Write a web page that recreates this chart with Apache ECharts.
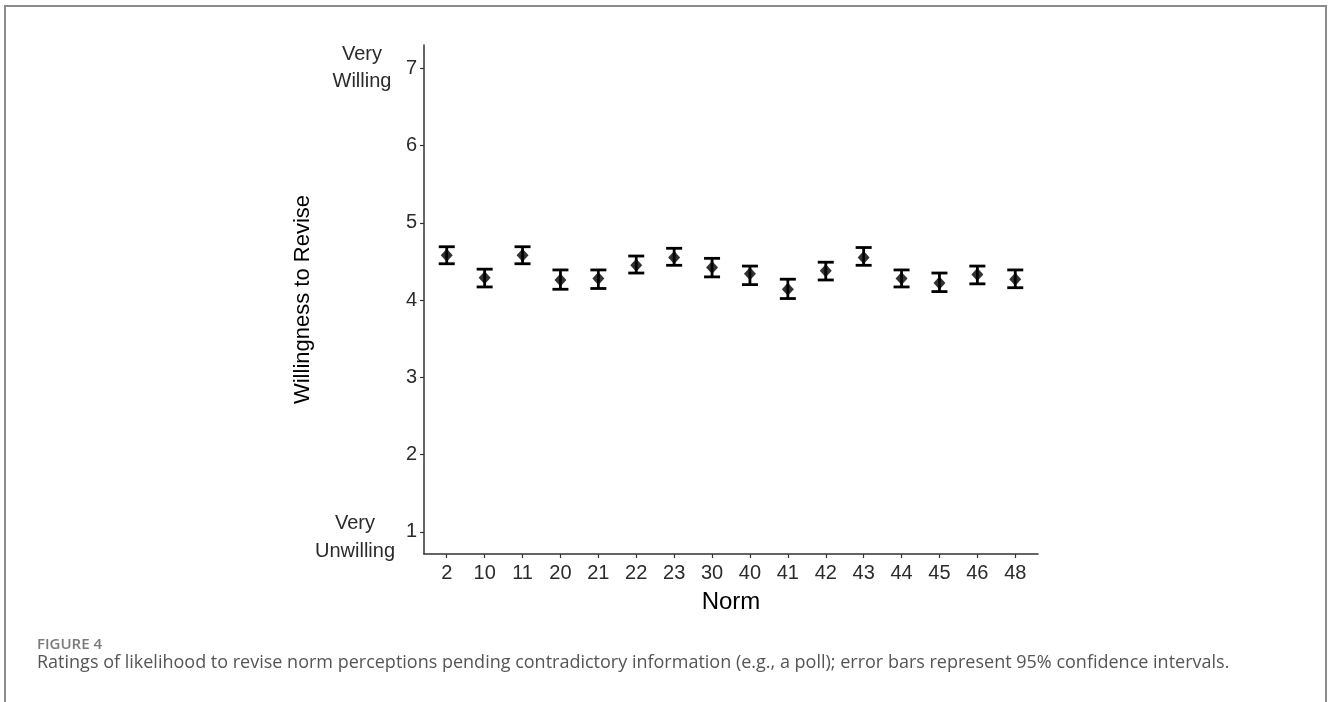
<!DOCTYPE html>
<html>
<head>
<meta charset="utf-8">
<title>Figure 4</title>
<script src="https://cdn.jsdelivr.net/npm/echarts@6/dist/echarts.min.js"></script>
<style>
  html, body { margin: 0; padding: 0; background: #fff; }
  #chart { position: absolute; left: 0; top: 0; width: 1328px; height: 702px; }
  #frame {
    position: absolute; left: 4px; top: 5px; width: 1319px; height: 720px;
    border: 2px solid #8c8c8c; border-bottom: none; pointer-events: none;
  }
</style>
</head>
<body>
<div id="chart"></div>
<div id="frame"></div>
<script>
// norms on the x axis
const norms = ["2", "10", "11", "20", "21", "22", "23", "30", "40", "41", "42", "43", "44", "45", "46", "48"];
// mean rating and 95% CI per norm
const means = [4.58, 4.29, 4.58, 4.26, 4.28, 4.45, 4.55, 4.42, 4.34, 4.14, 4.38, 4.55, 4.28, 4.22, 4.33, 4.27];
const lower = [4.47, 4.17, 4.47, 4.14, 4.15, 4.35, 4.45, 4.30, 4.20, 4.02, 4.26, 4.45, 4.17, 4.11, 4.21, 4.16];
const upper = [4.69, 4.40, 4.69, 4.39, 4.39, 4.57, 4.67, 4.54, 4.44, 4.27, 4.49, 4.68, 4.39, 4.35, 4.44, 4.39];
const yTicks = [1, 2, 3, 4, 5, 6, 7];

const xPos = norms.map((n, i) => i + 1);
const fontAxis = "'Liberation Sans', Arial, sans-serif";
const fontCap = "'Open Sans', 'Noto Sans', sans-serif";

const chart = echarts.init(document.getElementById("chart"));

const option = {
  animation: false,
  backgroundColor: "#fff",
  title: [
    {
      text: "FIGURE 4",
      left: 37, top: 637, padding: 0,
      textStyle: { fontFamily: fontCap, fontSize: 15, fontWeight: 600, color: "#7a7a7a", lineHeight: 15 }
    },
    {
      text: "Ratings of likelihood to revise norm perceptions pending contradictory information (e.g., a poll); error bars represent 95% confidence intervals.",
      left: 37, top: 654, padding: 0,
      textStyle: { fontFamily: fontCap, fontSize: 18, fontWeight: 400, color: "#555", lineHeight: 18 }
    }
  ],
  grid: { left: 424, right: 290, top: 45, bottom: 148 },
  xAxis: {
    type: "value",
    min: 0.4,
    max: 16.6,
    name: "Norm",
    nameLocation: "middle",
    nameGap: 36,
    nameTextStyle: { fontFamily: fontAxis, fontSize: 24, color: "#000" },
    axisLine: { lineStyle: { color: "#333", width: 1.5 } },
    axisTick: { customValues: xPos, length: 4, lineStyle: { color: "#333", width: 1.2 } },
    axisLabel: {
      customValues: xPos,
      formatter: v => norms[Math.round(v) - 1],
      fontFamily: fontAxis, fontSize: 20, color: "#2b2b2b", margin: 9
    },
    splitLine: { show: false }
  },
  yAxis: {
    type: "value",
    min: 0.715,
    max: 7.3,
    name: "Willingness to Revise",
    nameLocation: "middle",
    nameRotate: 90,
    nameGap: 110,
    nameTextStyle: { fontFamily: fontAxis, fontSize: 22, color: "#000" },
    axisLine: { show: true, lineStyle: { color: "#333", width: 1.5 } },
    axisTick: { show: true, customValues: yTicks, length: 4, lineStyle: { color: "#333", width: 1.2 } },
    axisLabel: { customValues: yTicks, fontFamily: fontAxis, fontSize: 20, color: "#2b2b2b", margin: 7 },
    splitLine: { show: false }
  },
  series: [
    {
      name: "95% CI",
      type: "custom",
      data: xPos.map((x, i) => [x, lower[i], upper[i]]),
      renderItem: (params, api) => {
        const lo = api.coord([api.value(0), api.value(1)]);
        const hi = api.coord([api.value(0), api.value(2)]);
        const half = 8;
        const style = { stroke: "#000", lineWidth: 2.8 };
        return {
          type: "group",
          children: [
            { type: "line", shape: { x1: lo[0], y1: lo[1], x2: hi[0], y2: hi[1] }, style },
            { type: "line", shape: { x1: lo[0] - half, y1: lo[1], x2: lo[0] + half, y2: lo[1] }, style },
            { type: "line", shape: { x1: hi[0] - half, y1: hi[1], x2: hi[0] + half, y2: hi[1] }, style }
          ]
        };
      },
      z: 2
    },
    {
      name: "Mean",
      type: "scatter",
      data: xPos.map((x, i) => [x, means[i]]),
      symbol: "diamond",
      symbolSize: [12, 13],
      itemStyle: { color: "#000" },
      z: 3
    }
  ]
};

chart.setOption(option);

// end labels next to the y axis, placed from the axis scale
const y7 = chart.convertToPixel({ yAxisIndex: 0 }, 7);
const y1 = chart.convertToPixel({ yAxisIndex: 0 }, 1);
chart.setOption({
  graphic: [
    {
      type: "text", x: 362, y: y7,
      style: { text: "Very\nWilling", fontFamily: fontAxis, fontSize: 20, lineHeight: 27, fill: "#2b2b2b", align: "center", verticalAlign: "middle" }
    },
    {
      type: "text", x: 355, y: y1 + 6,
      style: { text: "Very\nUnwilling", fontFamily: fontAxis, fontSize: 20, lineHeight: 28, fill: "#2b2b2b", align: "center", verticalAlign: "middle" }
    }
  ]
});
</script>
</body>
</html>
